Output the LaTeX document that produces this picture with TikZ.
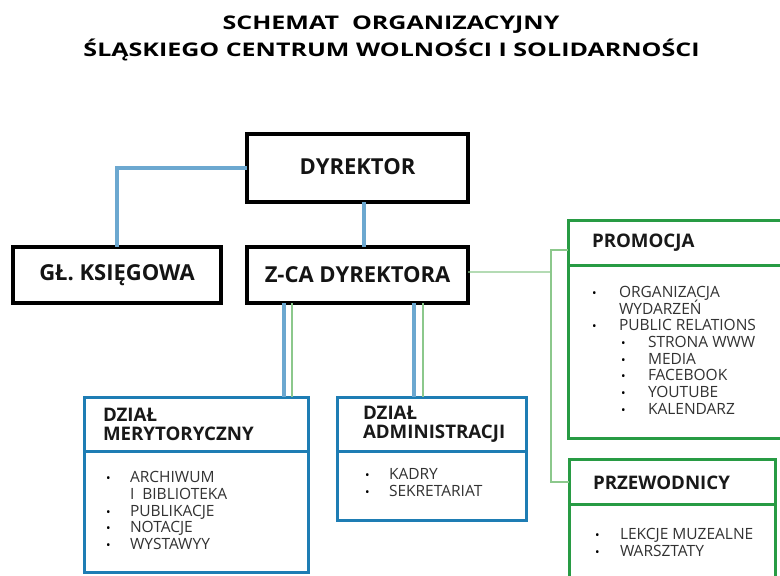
\documentclass[tikz,border=0pt]{standalone}
\usepackage{fontspec}
\usepackage{graphicx}
\setmainfont{Open Sans}
\definecolor{conblue}{RGB}{108,168,208}
\definecolor{deptblue}{RGB}{30,125,180}
\definecolor{grn}{RGB}{40,155,68}
\definecolor{congreen}{RGB}{140,200,140}
\definecolor{bodygray}{RGB}{50,50,50}
\newcommand{\bul}{{\fontsize{12bp}{12bp}\selectfont\color{black}•}}
\tikzset{
  every node/.style={inner sep=0pt, outer sep=0pt},
  topbox/.style={draw=black, line width=3.8bp, fill=white, font=\fontsize{22bp}{24bp}\selectfont\bfseries, text=black!92},
  deptbox/.style={draw=deptblue, line width=3bp, fill=white, anchor=north west},
  grbox/.style={draw=grn, line width=3bp, fill=white, anchor=north west},
  hdrtext/.style={font=\fontsize{18.7bp}{19bp}\selectfont\bfseries, align=left, anchor=west, text=black!90},
  itemtext/.style={font=\fontsize{15.5bp}{16.8bp}\selectfont, anchor=base west, text=bodygray},
  titletext/.style={font=\fontsize{18.8bp}{20bp}\selectfont\bfseries, anchor=base, text=black},
  bluecon/.style={draw=conblue, line width=4bp},
  grcon/.style={draw=congreen, line width=1.3bp},
}
\begin{document}
\begin{tikzpicture}[x=1bp,y=-1bp]
\useasboundingbox (0,0) rectangle (780,576);
\clip (0,0) rectangle (780,576);
\fill[white] (0,0) rectangle (780,576);

% title
\node[titletext] (t1) at (391,29.3) {\scalebox{1.33}[1]{SCHEMAT\ \ ORGANIZACYJNY}};
\node[titletext] (t2) at (391.5,56.5) {\scalebox{1.33}[1]{ŚLĄSKIEGO CENTRUM WOLNOŚCI I SOLIDARNOŚCI}};

% top boxes
\node[topbox, minimum width=221bp, minimum height=68bp] (dir) at (357.5,168) {\raisebox{2bp}{DYREKTOR}};
\node[topbox, minimum width=208bp, minimum height=56bp] (gl) at (117,275) {\raisebox{1.5bp}{GŁ. KSIĘGOWA}};
\node[topbox, minimum width=221bp, minimum height=56bp] (zca) at (357.5,275) {\raisebox{1.5bp}{Z-CA DYREKTORA}};

% department boxes (blue)
\node[deptbox, minimum width=224bp, minimum height=54bp] (mer) at (84,397) {};
\node[deptbox, minimum width=224bp, minimum height=121bp] (merb) at (84,451) {};
\node[deptbox, minimum width=189bp, minimum height=54bp] (adm) at (337,397) {};
\node[deptbox, minimum width=189bp, minimum height=69bp] (admb) at (337,451) {};

% green boxes
\node[grbox, minimum width=216bp, minimum height=45bp] (pro) at (568,220) {};
\node[grbox, minimum width=216bp, minimum height=173bp] (prob) at (568,265) {};
\node[grbox, minimum width=206bp, minimum height=45bp] (prz) at (569,459) {};
\node[grbox, minimum width=206bp, minimum height=90bp] (przb) at (569,504) {};

% connectors
\draw[bluecon] (dir.west) -| (gl.north);
\draw[bluecon] ([xshift=6.5bp]dir.south) -- ([xshift=6.5bp]zca.north);
\draw[bluecon] (zca.south -| 284,0) -- (mer.north -| 284,0);
\draw[grcon] (zca.south -| 292,0) -- (mer.north -| 292,0);
\draw[bluecon] (zca.south -| 414,0) -- (adm.north -| 414,0);
\draw[grcon] (zca.south -| 423,0) -- (adm.north -| 423,0);
\coordinate (jt) at (551,250);
\coordinate (jm) at (551,272);
\coordinate (jb) at (551,482);
\draw[grcon] ([yshift=3bp]zca.east) -- (jm);
\draw[grcon] (pro.west |- jt) -- (jt) -- (jb) -- (prz.west |- jb);

% header texts
\node[hdrtext] (mert) at (103,424) {DZIAŁ\\MERYTORYCZNY};
\node[hdrtext] (admt) at (363,424) {DZIAŁ\\ADMINISTRACJI};
\node[hdrtext] (prot) at (592,243) {PROMOCJA};
\node[hdrtext] (przt) at (593,483) {PRZEWODNICY};

% merytoryczny items
\node[itemtext] (mb1) at (106,482) {\bul};
\node[itemtext] (mi1) at (130,482) {ARCHIWUM};
\node[itemtext] (mi2) at (130,499) {I\ \ BIBLIOTEKA};
\node[itemtext] (mb3) at (106,516) {\bul};
\node[itemtext] (mi3) at (130,516) {PUBLIKACJE};
\node[itemtext] (mb4) at (106,532) {\bul};
\node[itemtext] (mi4) at (130,532) {NOTACJE};
\node[itemtext] (mb5) at (106,549) {\bul};
\node[itemtext] (mi5) at (130,549) {WYSTAWYY};

% administracji items
\node[itemtext] (ab1) at (365,479.5) {\bul};
\node[itemtext] (ai1) at (389,479.5) {KADRY};
\node[itemtext] (ab2) at (365,496) {\bul};
\node[itemtext] (ai2) at (389,496) {SEKRETARIAT};

% promocja items
\node[itemtext] (pb1) at (592,297) {\bul};
\node[itemtext] (pi1) at (619,297) {ORGANIZACJA};
\node[itemtext] (pi2) at (619,314) {WYDARZEŃ};
\node[itemtext] (pb3) at (592,330.5) {\bul};
\node[itemtext] (pi3) at (619,330.5) {PUBLIC RELATIONS};
\node[itemtext] (pb4) at (621,347) {\bul};
\node[itemtext] (pi4) at (648,347) {STRONA WWW};
\node[itemtext] (pb5) at (621,364) {\bul};
\node[itemtext] (pi5) at (648,364) {MEDIA};
\node[itemtext] (pb6) at (621,380.5) {\bul};
\node[itemtext] (pi6) at (648,380.5) {FACEBOOK};
\node[itemtext] (pb7) at (621,397) {\bul};
\node[itemtext] (pi7) at (648,397) {YOUTUBE};
\node[itemtext] (pb8) at (621,414) {\bul};
\node[itemtext] (pi8) at (648,414) {KALENDARZ};

% przewodnicy items
\node[itemtext] (zb1) at (595,539.5) {\bul};
\node[itemtext] (zi1) at (620,539.5) {LEKCJE MUZEALNE};
\node[itemtext] (zb2) at (595,556.5) {\bul};
\node[itemtext] (zi2) at (620,556.5) {WARSZTATY};
\end{tikzpicture}
\end{document}
